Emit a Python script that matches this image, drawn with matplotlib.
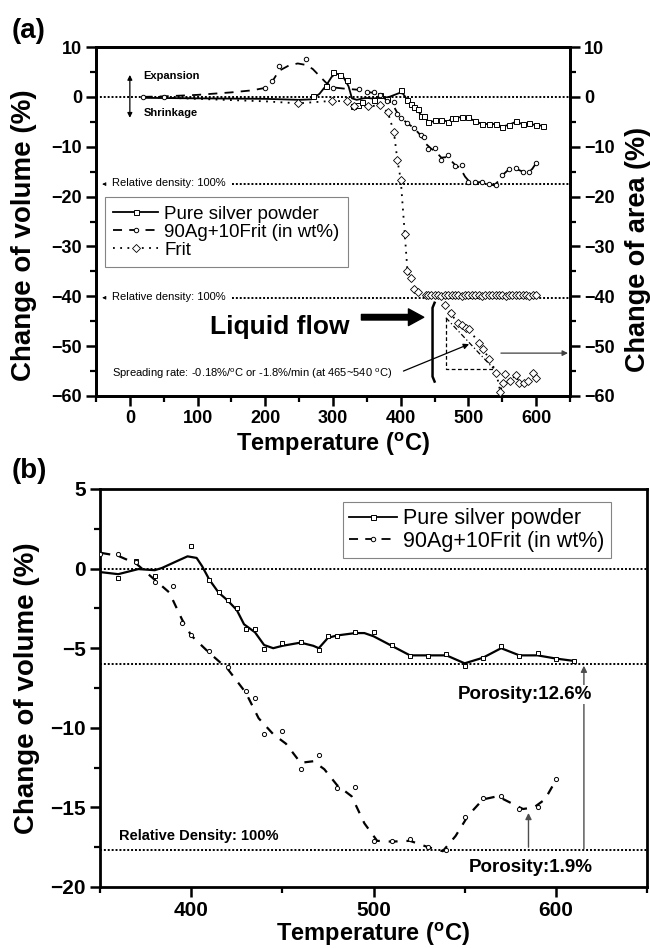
import matplotlib
matplotlib.use("Agg")
import matplotlib.pyplot as plt
from matplotlib.lines import Line2D
from matplotlib.ticker import MultipleLocator

plt.rcParams["font.family"] = ["Liberation Sans", "DejaVu Sans"]
plt.rcParams["mathtext.fontset"] = "custom"
plt.rcParams["mathtext.rm"] = "Liberation Sans"
plt.rcParams["mathtext.bf"] = "Liberation Sans:bold"

# --- pure silver powder: measured points and the smoothed curve ---
silver_temp = [270, 289, 300, 310, 320, 330, 337, 343, 360, 370, 380, 400, 410, 415, 420,
               425, 430, 435, 440, 450, 460, 470, 475, 480, 490, 500, 510, 520, 530, 540,
               550, 560, 570, 580, 590, 600, 610]
silver_vol = [0.2, 2.1, 4.9, 4.3, 3.4, -1.8, -1.6, -1.1, -0.6, 0.45, -0.45, 1.45, -0.7, -1.5, -2.0,
              -2.5, -3.8, -3.8, -5.05, -4.7, -4.6, -5.1, -4.25, -4.25, -4.0, -4.0, -4.8, -5.5, -5.5, -5.35,
              -6.1, -5.6, -4.85, -5.5, -5.3, -5.7, -5.8]
silver_fit_temp = [20, 100, 200, 250, 268, 280, 290, 298, 304, 314, 323, 328, 335, 345, 351, 360, 371,
                   380, 384, 392, 398, 403, 406, 410, 415, 420, 425, 429, 435, 440, 445, 450, 460, 467,
                   470, 475, 480, 490, 495, 500, 510, 520, 530, 540, 550, 560, 570, 580, 590, 600, 610]
silver_fit_vol = [-0.2, -0.3, -0.4, -0.6, -0.5, 0.6, 2.3, 4.0, 4.7, 4.3, 2.1, -0.3, -0.6, -0.3, -0.23,
                  -0.35, -0.03, -0.1, 0.04, 0.46, 0.77, 0.67, 0.15, -0.7, -1.5, -2.0, -2.6, -3.5, -4.0,
                  -4.8, -5.0, -4.85, -4.65, -4.85, -5.0, -4.35, -4.2, -4.05, -4.05, -4.25, -4.85, -5.45,
                  -5.45, -5.45, -5.95, -5.6, -5.0, -5.45, -5.45, -5.65, -5.8]

# --- 90Ag+10Frit ---
ag_temp = [20, 50, 200, 210, 220, 260, 300, 338, 350, 360, 370, 380, 390, 395, 400, 410, 420, 430,
           435, 440, 450, 460, 470, 480, 490, 500, 510, 520, 530, 540, 550, 560, 570, 580, 590, 600]
ag_vol = [0.05, 0.05, 1.8, 3.1, 6.1, 7.5, 1.8, 1.5, 0.92, 0.92, 0.4, -0.86, -1.1, -3.4, -4.15, -5.2,
          -6.2, -7.7, -8.1, -10.4, -10.2, -12.6, -11.7, -13.8, -13.75, -17.1, -17.1, -17.0, -17.5,
          -17.7, -15.6, -14.4, -14.3, -15.1, -15.0, -13.2]
ag_fit_temp = [20, 50, 100, 150, 180, 200, 210, 220, 235, 248, 260, 270, 280, 290, 300, 320, 340,
               350, 360, 370, 380, 388, 395, 400, 410, 420, 430, 437, 445, 452, 460, 467, 473, 480,
               488, 495, 502, 510, 520, 530, 538, 545, 552, 560, 568, 575, 582, 588, 594, 600]
ag_fit_vol = [0.0, 0.1, 0.4, 0.9, 1.3, 1.8, 3.0, 5.2, 6.3, 6.7, 6.4, 5.6, 4.2, 2.8, 1.9, 1.6, 1.4,
              1.0, 0.8, 0.3, -0.7, -1.5, -3.2, -4.2, -5.3, -6.3, -7.8, -9.4, -10.4, -11.0, -12.2,
              -12.1, -12.6, -13.6, -14.3, -16.0, -17.1, -17.15, -17.1, -17.5, -17.75, -16.8, -15.5,
              -14.5, -14.3, -14.7, -15.1, -15.0, -14.5, -13.3]

# --- frit: volume (left axis) and area (right axis) ---
frit_temp = [20, 100, 200, 249, 299, 321, 331, 351, 370, 381, 390, 395, 400, 406, 410, 415, 420,
             425, 437, 440, 445, 450, 455, 460, 465, 470, 475, 480, 485, 490, 495, 500, 505, 510,
             515, 520, 525, 530, 535, 540, 545, 550, 555, 560, 565, 570, 575, 580, 585, 590, 595, 600]
frit_vol = [0.0, -0.4, -0.9, -1.3, -0.8, -0.9, -1.8, -1.9, -1.7, -3.1, -7.1, -12.6, -16.6, -27.5,
            -35.0, -36.3, -38.6, -39.1, -39.8, -39.8, -39.7, -39.8, -39.8, -39.9, -39.8, -39.7,
            -39.8, -39.8, -39.8, -39.9, -39.8, -39.7, -39.8, -39.8, -39.8, -39.9, -39.8, -39.8,
            -39.7, -39.8, -39.8, -39.8, -39.9, -39.8, -39.8, -39.7, -39.8, -39.8, -39.8, -39.9,
            -39.8, -39.8]
area_temp = [465, 474, 484, 491, 497, 501, 515, 521, 531, 541, 547, 551, 554, 561, 570, 575, 582,
             588, 595, 600]
area_val = [-41.8, -43.4, -45.4, -45.8, -46.3, -46.5, -49.4, -50.6, -52.5, -55.3, -59.1, -57.3,
            -55.6, -57.0, -55.8, -57.3, -57.4, -57.0, -55.4, -56.4]

# reference levels
dense_a = [0.0, -17.5, -40.3]
dense_b = [0.0, -6.0, -17.7]

DOT = (0, (1, 1))
DASH = (0, (5, 4))


def style_axis(ax, lw, major, minor, size):
    for s in ax.spines.values():
        s.set_linewidth(lw)
    ax.tick_params(which="major", direction="out", length=major, width=lw * 0.9,
                   labelsize=size, pad=3)
    ax.tick_params(which="minor", direction="out", length=minor, width=lw * 0.8)
    for lab in ax.get_xticklabels() + ax.get_yticklabels():
        lab.set_fontweight("bold")


fig = plt.figure(figsize=(6.5, 9.48), dpi=100)

# ======================= panel (a) =======================
ax = fig.add_axes([96 / 650, 1 - 396 / 948, 474 / 650, 349 / 948])
ax.set_xlim(-50, 650)
ax.set_ylim(-60, 10)
ax.xaxis.set_major_locator(MultipleLocator(100))
ax.xaxis.set_minor_locator(MultipleLocator(50))
ax.yaxis.set_major_locator(MultipleLocator(10))
ax.yaxis.set_minor_locator(MultipleLocator(5))

ax.axhline(dense_a[0], color="black", ls=DOT, lw=1.4, zorder=1)
ax.plot([151, 650], [dense_a[1]] * 2, color="black", ls=DOT, lw=1.4, zorder=1)
ax.plot([151, 650], [dense_a[2]] * 2, color="black", ls=DOT, lw=1.4, zorder=1)
for yv in dense_a[1:]:
    ax.annotate("", xy=(-45, yv), xytext=(-33, yv),
                arrowprops=dict(arrowstyle="-|>", lw=0.6, color="black", mutation_scale=5))
    ax.text(-27, yv + 0.2, "Relative density: 100%", fontsize=8, va="center", ha="left")

ax.plot(silver_fit_temp, silver_fit_vol, color="black", lw=1.3, zorder=3)
ax.plot(silver_temp, silver_vol, ls="none", marker="s", ms=3.6, mfc="white", mec="black",
        mew=0.7, zorder=4)
ax.plot(ag_fit_temp, ag_fit_vol, color="black", lw=1.3, ls=DASH, zorder=3)
ax.plot(ag_temp, ag_vol, ls="none", marker="o", ms=3.2, mfc="white", mec="black", mew=0.7,
        zorder=4)
ax.plot(frit_temp, frit_vol, color="black", lw=1.3, ls=(0, (1, 3)), zorder=3)
ax.plot(frit_temp[3:], frit_vol[3:], ls="none", marker="D", ms=3.6, mfc="white", mec="black",
        mew=0.6, zorder=4)

ax2 = ax.twinx()
ax2.set_ylim(-60, 10)
ax2.yaxis.set_major_locator(MultipleLocator(10))
ax2.yaxis.set_minor_locator(MultipleLocator(5))
ax2.plot(area_temp, area_val, color="black", lw=1.3, ls=(0, (1, 3)), zorder=3)
ax2.plot(area_temp, area_val, ls="none", marker="D", ms=3.6, mfc="white", mec="black", mew=0.6,
         zorder=4)

# spreading-rate triangle
ax2.plot([466.7, 466.7, 537], [-44.3, -54.5, -54.5], color="black", lw=0.9, ls=(0, (3, 2)))
ax2.plot([466.7, 537], [-44.3, -54.5], color="black", lw=0.9, ls=(0, (4, 2, 1, 2)))
ax2.plot([450, 447, 447, 450], [-41.3, -42.3, -56.1, -57.1], color="black", lw=1.8)
ax2.annotate("", xy=(501, -49.6), xytext=(404, -55.0),
             arrowprops=dict(arrowstyle="-|>", lw=0.9, color="black", mutation_scale=8,
                             shrinkA=0, shrinkB=0))
ax2.annotate("", xy=(647, -51.4), xytext=(548, -51.4),
             arrowprops=dict(arrowstyle="-|>", lw=0.9, color="0.25", mutation_scale=8,
                             shrinkA=0, shrinkB=0))
ax2.annotate("", xy=(434, -44.2), xytext=(342, -44.2),
             arrowprops=dict(facecolor="black", edgecolor="black", width=4, headwidth=12,
                             headlength=11, shrink=0))
ax2.text(118, -46.2, "Liquid flow", fontsize=19, fontweight="bold", va="center", ha="left")
ax2.text(-27, -55.6, r"Spreading rate: -0.18%/$^\mathrm{o}$C or -1.8%/min (at 465~540 $^\mathrm{o}$C)",
         fontsize=8, va="center", ha="left")

# expansion / shrinkage
ax.annotate("", xy=(0, 4.4), xytext=(0, -4.2),
            arrowprops=dict(arrowstyle="<|-|>", lw=0.9, color="black", mutation_scale=7,
                            shrinkA=0, shrinkB=0))
ax.text(20, 4.2, "Expansion", fontsize=8, fontweight="bold", va="center")
ax.text(20, -3.2, "Shrinkage", fontsize=8, fontweight="bold", va="center")

style_axis(ax, 2.0, 7, 4, 13)
style_axis(ax2, 2.0, 7, 4, 13)
ax.tick_params(axis="y", which="both", right=False)
ax.set_xlabel(r"Temperature ($^\mathbf{o}$C)", fontsize=17, fontweight="bold")
ax.xaxis.set_label_coords(0.5, -0.097)
ax.set_ylabel("Change of volume (%)", fontsize=20, fontweight="bold")
ax.yaxis.set_label_coords(-0.124, 0.46)
ax2.set_ylabel("Change of area (%)", fontsize=19.5, fontweight="bold")
ax2.yaxis.set_label_coords(1.116, 0.42)

handles_a = [
    Line2D([], [], color="black", lw=1.3, marker="s", ms=3.6, mfc="white", mec="black", mew=0.7),
    Line2D([], [], color="black", lw=1.3, ls=DASH, marker="o", ms=3.2, mfc="white", mec="black",
           mew=0.7),
    Line2D([], [], color="black", lw=1.3, ls=(0, (1, 3)), marker="D", ms=3.6, mfc="white",
           mec="black", mew=0.6),
]
leg = ax2.legend(handles_a, ["Pure silver powder", "90Ag+10Frit (in wt%)", "Frit"],
                 loc="upper left", bbox_to_anchor=(105 / 650, 1 - 197 / 948),
                 bbox_transform=fig.transFigure, fontsize=13.5, frameon=True, fancybox=False,
                 edgecolor="0.4", handlelength=2.4, borderaxespad=0, labelspacing=0.05,
                 handletextpad=0.3, borderpad=0.45)
leg.get_frame().set_linewidth(0.8)

# ======================= panel (b) =======================
bx = fig.add_axes([100 / 650, 1 - 887 / 948, 547 / 650, 398 / 948])
bx.set_xlim(350, 650)
bx.set_ylim(-20, 5)
bx.xaxis.set_major_locator(MultipleLocator(100))
bx.xaxis.set_minor_locator(MultipleLocator(50))
bx.yaxis.set_major_locator(MultipleLocator(5))
bx.yaxis.set_minor_locator(MultipleLocator(2.5))

for yv in dense_b:
    bx.axhline(yv, color="black", ls=DOT, lw=1.4, zorder=1)

bx.plot(silver_fit_temp, silver_fit_vol, color="black", lw=1.6, zorder=3)
bx.plot(silver_temp, silver_vol, ls="none", marker="s", ms=3.4, mfc="white", mec="black",
        mew=0.7, zorder=4)
bx.plot(ag_fit_temp, ag_fit_vol, color="black", lw=1.6, ls=(0, (4, 4)), zorder=3)
bx.plot(ag_temp, ag_vol, ls="none", marker="o", ms=3.0, mfc="white", mec="black", mew=0.7,
        zorder=4)

bx.annotate("", xy=(615.4, -6.1), xytext=(615.4, -17.6),
            arrowprops=dict(arrowstyle="-|>", lw=1.0, color="0.3", mutation_scale=9,
                            shrinkA=0, shrinkB=0), zorder=2)
bx.annotate("", xy=(585, -15.35), xytext=(585, -17.5),
            arrowprops=dict(arrowstyle="-|>", lw=1.0, color="0.3", mutation_scale=9,
                            shrinkA=0, shrinkB=0), zorder=2)
bx.text(620, -7.9, "Porosity:12.6%", fontsize=13.5, fontweight="bold", ha="right", va="center",
        zorder=5, bbox=dict(facecolor="white", edgecolor="none", pad=1))
bx.text(620, -18.8, "Porosity:1.9%", fontsize=13.5, fontweight="bold", ha="right", va="center",
        zorder=5)
bx.text(360.5, -16.8, "Relative Density: 100%", fontsize=10.5, fontweight="bold", ha="left",
        va="center")

style_axis(bx, 2.0, 7, 4, 15)
bx.set_xlabel(r"Temperature ($^\mathbf{o}$C)", fontsize=17, fontweight="bold")
bx.xaxis.set_label_coords(0.5, -0.083)
bx.set_ylabel("Change of volume (%)", fontsize=20, fontweight="bold")
bx.yaxis.set_label_coords(-0.11, 0.5)

leg_b = bx.legend(handles_a[:2], ["Pure silver powder", "90Ag+10Frit (in wt%)"],
                  loc="upper left", bbox_to_anchor=(343 / 650, 1 - 502 / 948),
                  bbox_transform=fig.transFigure, fontsize=15.5, frameon=True, fancybox=False,
                  edgecolor="0.4", handlelength=2.2, borderaxespad=0, labelspacing=0.05,
                  handletextpad=0.3, borderpad=0.3)
leg_b.get_frame().set_linewidth(0.8)

fig.text(12 / 650, 1 - 18 / 948, "(a)", fontsize=20, fontweight="bold", va="top", ha="left")
fig.text(12 / 650, 1 - 458 / 948, "(b)", fontsize=20, fontweight="bold", va="top", ha="left")

fig.savefig("out.png", dpi=100)
